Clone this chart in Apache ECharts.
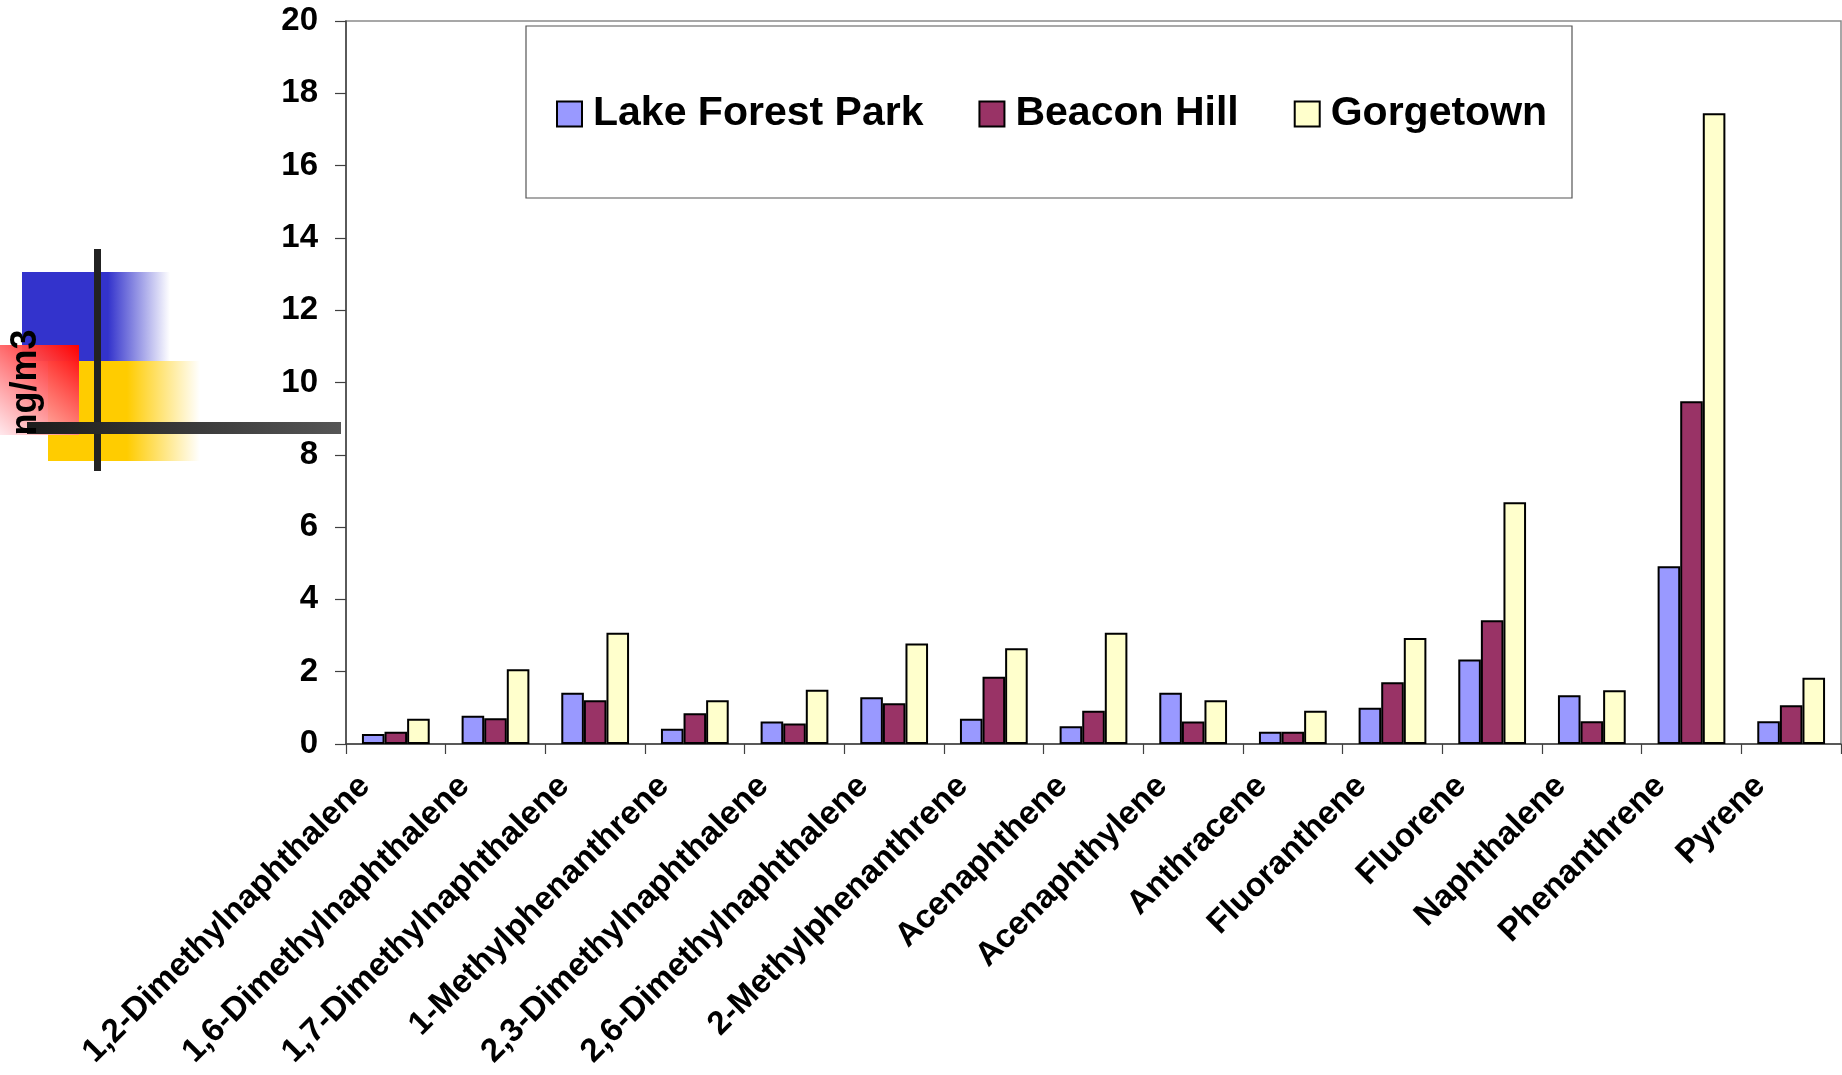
<!DOCTYPE html>
<html>
<head>
<meta charset="utf-8">
<script src="https://cdn.jsdelivr.net/npm/echarts@6/dist/echarts.min.js"></script>
<style>
html,body{margin:0;padding:0;background:#fff;}
#chart{width:1842px;height:1075px;}
</style>
</head>
<body>
<div id="chart"></div>
<script>
const categories = ['1,2-Dimethylnaphthalene','1,6-Dimethylnaphthalene','1,7-Dimethylnaphthalene','1-Methylphenanthrene','2,3-Dimethylnaphthalene','2,6-Dimethylnaphthalene','2-Methylphenanthrene','Acenaphthene','Acenaphthylene','Anthracene','Fluoranthene','Fluorene','Naphthalene','Phenanthrene','Pyrene'];
const seriesNames = ['Lake Forest Park','Beacon Hill','Gorgetown'];
const lakeForestPark = [0.28,0.78,1.42,0.42,0.62,1.29,0.70,0.49,1.42,0.34,1.00,2.34,1.35,4.92,0.63];
const beaconHill     = [0.34,0.71,1.21,0.85,0.57,1.13,1.86,0.92,0.62,0.34,1.71,3.42,0.63,9.48,1.07];
const gorgetown      = [0.70,2.07,3.08,1.21,1.50,2.78,2.65,3.08,1.21,0.92,2.93,6.69,1.49,17.45,1.83];
const yTicks = {min:0, max:20, interval:2};
const yName = 'ng/m3';

const FONT = '"Liberation Sans", Arial, Helvetica, sans-serif';
const colors = ['#9999FF','#993366','#FFFFCC'];
const values = [lakeForestPark, beaconHill, gorgetown];

const chart = echarts.init(document.getElementById('chart'), null, {renderer:'canvas'});
const option = {
  animation:false,
  backgroundColor:'#ffffff',
  textStyle:{fontFamily:FONT},
  grid:{left:341, right:1, top:21, bottom:331, show:true, borderColor:'#8a8a8a', borderWidth:1.5, backgroundColor:'transparent'},
  legend:{
    data:seriesNames, left:556, top:90, padding:0, itemGap:55,
    itemWidth:25, itemHeight:25, icon:'rect',
    textStyle:{fontFamily:FONT, fontSize:41, fontWeight:'bold', color:'#000', padding:[0,0,0,6], lineHeight:48}
  },
  xAxis:{
    type:'category', data:categories, boundaryGap:true,
    axisLine:{lineStyle:{color:'#404040', width:1.5}},
    axisTick:{show:true, alignWithLabel:false, length:10, lineStyle:{color:'#404040', width:1.2}},
    axisLabel:{interval:0, rotate:45, margin:6, padding:[0,44,0,0], fontFamily:FONT, fontSize:33, fontWeight:'bold', color:'#000'}
  },
  yAxis:{
    type:'value', min:yTicks.min, max:yTicks.max, interval:yTicks.interval, z:10,
    name:yName, nameLocation:'middle', nameGap:302,
    nameTextStyle:{fontFamily:FONT, fontSize:36, fontWeight:'bold', color:'#000'},
    axisLine:{show:true, lineStyle:{color:'#404040', width:1.5}},
    axisTick:{show:true, length:11, lineStyle:{color:'#404040', width:1.2}},
    splitLine:{show:false},
    axisLabel:{margin:28, fontFamily:FONT, fontSize:33, fontWeight:'bold', color:'#000'}
  },
  graphic:[
    {type:'rect', z:-5, silent:true, shape:{x:526, y:26, width:1046, height:172}, style:{fill:'#fff', stroke:'#555', lineWidth:1.2}},
    {type:'rect', z:-4, silent:true, shape:{x:22, y:272, width:148, height:89},
      style:{fill:new echarts.graphic.LinearGradient(0,0,1,0,[{offset:0,color:'#3333CC'},{offset:0.58,color:'#3333CC'},{offset:1,color:'rgba(51,51,204,0)'}])}},
    {type:'rect', z:-4, silent:true, shape:{x:48, y:361, width:152, height:100},
      style:{fill:new echarts.graphic.LinearGradient(0,0,1,0,[{offset:0,color:'#FFCC00'},{offset:0.52,color:'#FFCC00'},{offset:1,color:'rgba(255,204,0,0)'}])}},
    {type:'rect', z:-3, silent:true, shape:{x:0, y:345, width:79, height:90},
      style:{fill:new echarts.graphic.LinearGradient(1,0,0,1,[{offset:0,color:'#FF0000'},{offset:1,color:'rgba(255,230,235,0.9)'}])}},
    {type:'rect', z:-2, silent:true, shape:{x:94, y:249, width:7, height:222}, style:{fill:'#222'}},
    {type:'rect', z:-2, silent:true, shape:{x:27, y:422, width:314, height:12},
      style:{fill:new echarts.graphic.LinearGradient(0,0,1,0,[{offset:0,color:'#1c1c1c'},{offset:1,color:'#555'}])}}
  ],
  series: seriesNames.map((n,i)=>({
    name:n, type:'bar', data:values[i], barGap:'0%', barCategoryGap:'32%',
    itemStyle:{color:colors[i], borderColor:'#000', borderWidth:2}
  }))
};
chart.setOption(option);
</script>
</body>
</html>
